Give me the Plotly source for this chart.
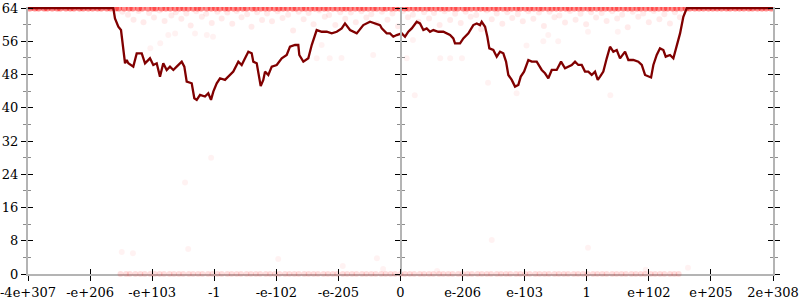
import plotly.graph_objects as go

# ---------------- data ----------------
x_tick_pos = [0, 1, 2, 3, 4, 5, 6, 7, 8, 9, 10, 11, 12]
x_tick_labels = ["-4e+307", "-e+206", "-e+103", "-1", "-e-102", "-e-205", "0",
                 "e-206", "e-103", "1", "e+102", "e+205", "2e+308"]
y_tick_vals = [0, 8, 16, 24, 32, 40, 48, 56, 64]

# average error line (bits)
line_x = [0, 1.374, 1.401, 1.455, 1.498, 1.535, 1.563, 1.590, 1.616, 1.696, 1.751, 1.832,
          1.885, 1.965, 2.018, 2.073, 2.126, 2.179, 2.234, 2.287, 2.341, 2.395, 2.476,
          2.518, 2.556, 2.637, 2.679, 2.718, 2.771, 2.851, 2.904, 2.948, 2.985, 3.040,
          3.093, 3.173, 3.254, 3.307, 3.388, 3.442, 3.496, 3.549, 3.603, 3.629, 3.684,
          3.726, 3.748, 3.790, 3.818, 3.871, 3.926, 4.006, 4.087, 4.167, 4.220, 4.301,
          4.354, 4.370, 4.435, 4.515, 4.570, 4.650, 4.731, 4.812, 4.892, 4.973, 5.053,
          5.106, 5.187, 5.295, 5.401, 5.509, 5.590, 5.670, 5.698, 5.778, 5.831, 5.884,
          5.939, 6.020, 6.073, 6.126, 6.181, 6.261, 6.314, 6.368, 6.422, 6.476, 6.529,
          6.609, 6.690, 6.745, 6.798, 6.851, 6.878, 6.959, 7.012, 7.093, 7.173, 7.228,
          7.281, 7.308, 7.362, 7.399, 7.431, 7.495, 7.550, 7.603, 7.656, 7.700, 7.737,
          7.792, 7.845, 7.898, 7.937, 7.990, 8.059, 8.114, 8.194, 8.275, 8.328, 8.381,
          8.436, 8.516, 8.586, 8.650, 8.703, 8.758, 8.811, 8.864, 8.919, 8.972, 9.025,
          9.080, 9.133, 9.177, 9.214, 9.267, 9.322, 9.375, 9.428, 9.483, 9.536, 9.617,
          9.670, 9.750, 9.831, 9.886, 9.939, 9.992, 10.036, 10.073, 10.127, 10.180,
          10.234, 10.272, 10.341, 10.395, 10.449, 10.503, 10.556, 10.611, 12]
line_y = [64, 64, 61.5, 59.5, 58.7, 53.9, 50.7, 51.5, 50.7, 49.9, 53.1, 53.1,
          50.7, 51.9, 50.3, 50.7, 47.5, 50.7, 49.1, 49.9, 49.1, 49.9, 51.1,
          49.9, 46.3, 45.9, 42.3, 41.9, 43.1, 42.7, 43.5, 41.9, 43.9, 45.9,
          47.1, 46.7, 47.9, 48.7, 51.1, 50.3, 51.9, 53.5, 53.1, 51.1, 50.7,
          47.5, 45.2, 46.7, 48.7, 47.9, 49.9, 50.3, 51.9, 52.7, 54.7, 55.1,
          55.1, 52.7, 51.1, 51.9, 55.1, 58.7, 58.3, 58.3, 57.9, 58.3, 59.1,
          60.3, 58.7, 57.9, 59.9, 60.7, 60.3, 59.9, 59.1, 57.9, 57.9, 57.1,
          57.5, 57.9, 57.1, 58.3, 59.1, 60.7, 60.3, 58.7, 59.1, 58.3, 58.7,
          58.3, 58.3, 57.9, 57.5, 56.7, 55.5, 55.5, 56.7, 57.9, 59.9, 60.3,
          59.9, 60.7, 59.5, 57.1, 54.3, 53.9, 52.3, 53.5, 53.1, 51.1, 47.9,
          46.7, 45.1, 45.5, 47.5, 48.7, 51.5, 51.1, 51.1, 49.1, 48.3, 47.1,
          49.1, 49.1, 51.1, 49.5, 49.9, 50.3, 51.1, 50.3, 50.3, 48.7, 48.7,
          47.9, 48.7, 46.7, 47.5, 48.7, 51.9, 54.7, 53.5, 53.9, 51.9, 53.5,
          51.5, 51.5, 51.1, 50.3, 47.9, 47.5, 47.3, 50.3, 52.7, 54.3,
          53.9, 52.3, 52.7, 51.9, 54.7, 57.9, 61.9, 64, 64]

# sampled points with maximal error (64 bits)
top_x = [0.03, 0.11, 0.17, 0.26, 0.31, 0.39, 0.47, 0.52, 0.61, 0.68, 0.74, 0.83, 0.89,
         0.97, 1.04, 1.12, 1.18, 1.27, 1.33, 1.41, 1.46, 1.55, 1.63, 1.69, 1.78, 1.84,
         1.93, 2.01, 2.06, 2.15, 2.22, 2.29, 2.37, 2.44, 2.51, 2.58, 2.66, 2.73, 2.79,
         2.88, 2.95, 3.02, 3.09, 3.17, 3.23, 3.31, 3.38, 3.46, 3.52, 3.61, 3.67, 3.75,
         3.82, 3.89, 3.97, 4.04, 4.11, 4.18, 4.26, 4.32, 4.41, 4.47, 4.55, 4.62, 4.69,
         4.77, 4.83, 4.91, 4.98, 5.06, 5.12, 5.19, 5.27, 5.34, 5.41, 5.48, 5.56, 5.62,
         5.71, 5.77, 5.85, 5.92, 5.99, 6.07, 6.13, 6.21, 6.28, 6.35, 6.43, 6.49, 6.57,
         6.64, 6.71, 6.78, 6.86, 6.92, 7.01, 7.07, 7.14, 7.22, 7.29, 7.36, 7.43, 7.51,
         7.57, 7.65, 7.72, 7.79, 7.87, 7.93, 8.01, 8.08, 8.15, 8.23, 8.29, 8.37, 8.44,
         8.51, 8.58, 8.66, 8.72, 8.80, 8.87, 8.94, 9.02, 9.08, 9.16, 9.23, 9.30, 9.37,
         9.45, 9.51, 9.59, 9.66, 9.73, 9.81, 9.87, 9.95, 10.02, 10.09, 10.16, 10.24,
         10.30, 10.38, 10.45, 10.52, 10.60, 10.66, 10.74, 10.81, 10.88, 10.96, 11.03,
         11.10, 11.17, 11.25, 11.31, 11.39, 11.46, 11.53, 11.61, 11.67, 11.75, 11.82,
         11.89, 11.97]
top_y = [64.0] * len(top_x)

# sampled points just below the maximum
near_x = [1.52, 1.61, 1.70, 1.78, 1.86, 1.95, 2.03, 2.12, 2.20, 2.31, 2.38, 2.47, 2.55,
          2.62, 2.71, 2.80, 2.87, 2.96, 3.05, 3.12, 3.21, 3.29, 3.36, 3.44, 3.53, 3.60,
          3.69, 3.77, 3.85, 3.93, 4.02, 4.10, 4.19, 4.27, 4.36, 4.44, 4.52, 4.60, 4.69,
          4.78, 4.85, 4.95, 5.03, 5.11, 5.20, 5.28, 5.37, 5.45, 5.53, 5.62, 5.70, 5.79,
          5.87, 5.96, 6.04, 6.12, 6.20, 6.29, 6.38, 6.46, 6.54, 6.63, 6.71, 6.80, 6.88,
          6.97, 7.05, 7.13, 7.22, 7.30, 7.39, 7.47, 7.55, 7.64, 7.72, 7.80, 7.89, 7.97,
          8.06, 8.14, 8.23, 8.31, 8.40, 8.48, 8.56, 8.65, 8.73, 8.82, 8.90, 8.99, 9.07,
          9.15, 9.24, 9.32, 9.41, 9.49, 9.57, 9.66, 9.74, 9.83, 9.91, 10.00, 10.08,
          10.17, 10.25, 10.34, 10.42, 10.50]
near_y = [63.1, 62.4, 61.2, 63.3, 60.6, 62.8, 61.7, 63.4, 60.9, 62.2, 63.0, 61.4, 62.7,
          59.8, 63.2, 61.9, 62.6, 60.4, 63.1, 61.5, 62.9, 60.2, 63.3, 61.8, 62.5, 59.5,
          63.0, 61.1, 62.7, 60.8, 63.2, 61.6, 62.4, 58.6, 63.1, 61.3, 62.8, 60.1, 63.4,
          61.9, 62.3, 59.9, 63.0, 61.4, 62.9, 60.6, 63.2, 61.7, 62.5, 60.3, 63.1, 61.2,
          62.7, 59.6, 63.3, 61.8, 62.4, 60.7, 63.0, 61.5, 62.8, 59.9, 63.2, 61.1, 62.6,
          60.4, 63.1, 61.9, 62.3, 58.9, 63.4, 61.3, 62.7, 60.2, 63.0, 61.6, 62.5, 60.8,
          63.2, 61.4, 62.9, 59.7, 63.1, 61.8, 62.2, 60.5, 63.3, 61.2, 62.6, 60.1, 63.0,
          61.7, 62.8, 60.9, 63.2, 61.5, 62.4, 59.4, 63.1, 61.9, 62.7, 60.6, 63.3,
          61.3, 62.5, 60.3, 63.0, 61.8]

# sparse sampled points in the middle of the range
mid_x = [2.13, 1.97, 2.26, 2.37, 2.69, 2.88, 2.98, 4.65, 4.73, 4.86, 5.05, 5.56, 6.10,
         6.20, 6.64, 6.80, 6.99, 7.41, 7.87, 6.23, 8.03, 8.30, 8.38, 8.54, 9.02, 9.38,
         9.50, 2.53, 2.95, 1.51, 1.69, 2.58, 4.03, 5.07, 5.62, 5.72, 6.59, 10.63, 7.47,
         9.02, 9.95]
mid_y = [55.5, 54.3, 57.5, 57.9, 57.9, 57.5, 57.1, 51.9, 55.1, 51.9, 52.0, 52.7, 51.9,
         56.3, 51.9, 51.9, 51.9, 46.0, 43.5, 43.0, 55.0, 56.0, 57.5, 56.0, 58.3, 43.0,
         58.3, 22.0, 28.0, 5.3, 5.0, 6.0, 3.6, 1.9, 3.8, 1.2, 0.7, 1.5, 8.2,
         6.3, 1.0]

# sampled points with zero error
zero_x = [1.49, 1.58, 1.64, 1.73, 1.81, 1.88, 1.97, 2.04, 2.12, 2.19, 2.28, 2.35, 2.43,
          2.50, 2.59, 2.66, 2.74, 2.81, 2.90, 2.97, 3.05, 3.12, 3.21, 3.28, 3.36, 3.43,
          3.52, 3.59, 3.67, 3.74, 3.83, 3.90, 3.98, 4.05, 4.14, 4.21, 4.29, 4.36, 4.45,
          4.52, 4.60, 4.67, 4.76, 4.83, 4.91, 4.98, 5.07, 5.14, 5.22, 5.29, 5.38, 5.45,
          5.53, 5.60, 5.69, 5.76, 5.84, 5.91, 6.00, 6.07, 6.15, 6.22, 6.31, 6.38, 6.46,
          6.53, 6.62, 6.69, 6.77, 6.84, 6.93, 7.00, 7.08, 7.15, 7.24, 7.31, 7.39, 7.46,
          7.55, 7.62, 7.70, 7.77, 7.86, 7.93, 8.01, 8.08, 8.17, 8.24, 8.32, 8.39, 8.48,
          8.55, 8.63, 8.70, 8.79, 8.86, 8.94, 9.01, 9.10, 9.17, 9.25, 9.32, 9.41, 9.48,
          9.56, 9.63, 9.72, 9.79, 9.87, 9.94, 10.03, 10.10, 10.18, 10.25, 10.34, 10.41,
          10.48]
zero_y = [0.0] * len(zero_x)

# ---------------- figure ----------------
AXIS_GRAY = "#b4b4b4"
FONT = dict(family="DejaVu Serif", size=13, color="black")
Y_RANGE = [0, 64.25]
X_RANGE = [0, 12]

fig = go.Figure()

fig.add_trace(go.Scatter(x=zero_x, y=zero_y, mode="markers", cliponaxis=False,
                         marker=dict(size=6, color="rgba(255,0,0,0.13)", line=dict(width=0)),
                         hoverinfo="skip", showlegend=False))
fig.add_trace(go.Scatter(x=mid_x, y=mid_y, mode="markers",
                         marker=dict(size=6, color="rgba(255,0,0,0.05)", line=dict(width=0)),
                         hoverinfo="skip", showlegend=False))
fig.add_trace(go.Scatter(x=near_x, y=near_y, mode="markers",
                         marker=dict(size=6, color="rgba(255,0,0,0.08)", line=dict(width=0)),
                         hoverinfo="skip", showlegend=False))
fig.add_trace(go.Scatter(x=top_x, y=top_y, mode="markers",
                         marker=dict(size=7, color="rgba(255,0,0,0.45)", line=dict(width=0)),
                         hoverinfo="skip", showlegend=False))
fig.add_trace(go.Scatter(x=line_x, y=line_y, mode="lines",
                         line=dict(color="#800000", width=2.3),
                         hoverinfo="skip", showlegend=False))

# empty traces so the overlaid tick axes exist
for ya in ["y2", "y3", "y4", "y5", "y6"]:
    fig.add_trace(go.Scatter(x=[None], y=[None], yaxis=ya, showlegend=False, hoverinfo="skip"))
fig.add_trace(go.Scatter(x=[None], y=[None], xaxis="x2", showlegend=False, hoverinfo="skip"))


def yax(direction, line, **kw):
    d = dict(range=Y_RANGE, tickmode="linear", tick0=0, dtick=8, showgrid=False,
             zeroline=False, ticks=direction, ticklen=5, tickwidth=1, tickcolor="black",
             showline=line, linecolor=AXIS_GRAY, linewidth=2, showticklabels=False,
             minor=dict(ticks=direction, tick0=0, dtick=4, ticklen=3, tickwidth=1,
                        tickcolor="#8c8c8c"),
             automargin=False, fixedrange=True)
    d.update(kw)
    return d


fig.update_layout(
    template="none",
    width=800, height=300,
    margin=dict(l=28, r=27, t=7, b=26, autoexpand=False),
    paper_bgcolor="white", plot_bgcolor="white",
    xaxis=dict(range=X_RANGE, tickmode="array", tickvals=x_tick_pos, ticktext=x_tick_labels,
               showgrid=False, zeroline=False, ticks="outside", ticklen=5, tickwidth=1,
               tickcolor="black", showline=True, linecolor=AXIS_GRAY, linewidth=2,
               tickfont=FONT, anchor="y", layer="below traces", automargin=False,
               ticklabeloverflow="allow", fixedrange=True),
    xaxis2=dict(range=X_RANGE, tickmode="array", tickvals=x_tick_pos, overlaying="x",
                anchor="y", side="bottom", showgrid=False, zeroline=False, ticks="inside",
                ticklen=5, tickwidth=1, tickcolor="black", showline=False,
                showticklabels=False, automargin=False, fixedrange=True),
    yaxis=yax("outside", True, showticklabels=True, tickfont=FONT, anchor="x", side="left",
              ticklabeloverflow="allow"),
    yaxis2=yax("inside", False, overlaying="y", anchor="x", side="left"),
    yaxis3=yax("outside", True, overlaying="y", anchor="free", position=0.5, side="left"),
    yaxis4=yax("inside", False, overlaying="y", anchor="free", position=0.5, side="left"),
    yaxis5=yax("outside", True, overlaying="y", anchor="x", side="right"),
    yaxis6=yax("inside", False, overlaying="y", anchor="x", side="right"),
)

fig.write_html("out.html")
